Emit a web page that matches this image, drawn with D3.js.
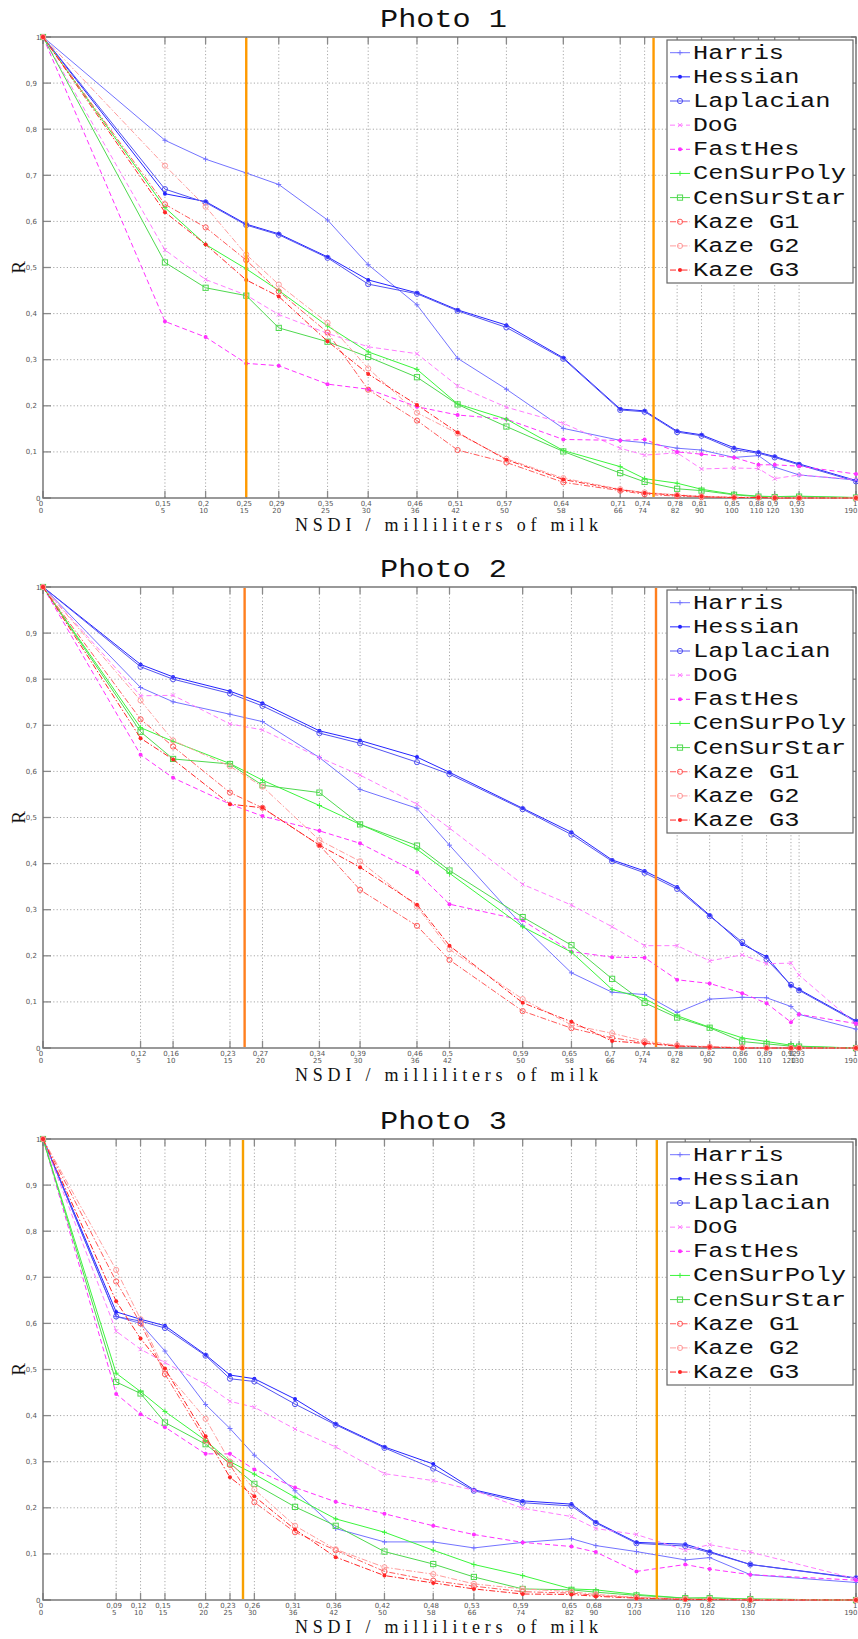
<!DOCTYPE html>
<html><head><meta charset="utf-8">
<script src="https://cdn.jsdelivr.net/npm/d3@7/dist/d3.min.js"></script>
<style>body{margin:0;background:#fff}svg{display:block}</style>
</head><body>
<svg id="c" width="858" height="1639"></svg>
<script>
// ---------------- DATA ----------------
const photoTitles = ["Photo 1", "Photo 2", "Photo 3"];
const milkLabels = [0, 5, 10, 15, 20, 25, 30, 36, 42, 50, 58, 66, 74, 82, 90, 100, 110, 120, 130, 190];

const nsdi1 = [0, 0.15, 0.2, 0.25, 0.29, 0.35, 0.4, 0.46, 0.51, 0.57, 0.64, 0.71, 0.74, 0.78, 0.81, 0.85, 0.88, 0.9, 0.93, 1];
const nsdi2 = [0, 0.12, 0.16, 0.23, 0.27, 0.34, 0.39, 0.46, 0.5, 0.59, 0.65, 0.7, 0.74, 0.78, 0.82, 0.86, 0.89, 0.92, 0.93, 1];
const nsdi3 = [0, 0.09, 0.12, 0.15, 0.2, 0.23, 0.26, 0.31, 0.36, 0.42, 0.48, 0.53, 0.59, 0.65, 0.68, 0.73, 0.79, 0.82, 0.87, 1];

const orange1 = [0.25, 0.751];
const orange2 = [0.248, 0.754];
const orange3 = [0.246, 0.755];

const yTicks = [0, 0.1, 0.2, 0.3, 0.4, 0.5, 0.6, 0.7, 0.8, 0.9, 1];

// Photo 1
const harris1     = [1, 0.776, 0.735, 0.705, 0.680, 0.603, 0.506, 0.419, 0.303, 0.236, 0.151, 0.125, 0.120, 0.108, 0.104, 0.088, 0.092, 0.067, 0.050, 0.039];
const hessian1    = [1, 0.660, 0.643, 0.594, 0.573, 0.523, 0.473, 0.445, 0.408, 0.375, 0.304, 0.193, 0.189, 0.145, 0.137, 0.109, 0.099, 0.090, 0.074, 0.038];
const laplacian1  = [1, 0.670, 0.641, 0.592, 0.571, 0.521, 0.464, 0.443, 0.406, 0.370, 0.302, 0.191, 0.187, 0.143, 0.135, 0.105, 0.097, 0.088, 0.072, 0.036];
const dog1        = [1, 0.538, 0.474, 0.440, 0.398, 0.357, 0.328, 0.313, 0.243, 0.197, 0.162, 0.108, 0.093, 0.098, 0.063, 0.065, 0.064, 0.042, 0.050, 0.040];
const fasthes1    = [1, 0.383, 0.349, 0.292, 0.287, 0.247, 0.236, 0.198, 0.180, 0.171, 0.127, 0.125, 0.127, 0.100, 0.095, 0.088, 0.072, 0.072, 0.069, 0.052];
const censurpoly1 = [1, 0.630, 0.550, 0.497, 0.450, 0.373, 0.317, 0.279, 0.204, 0.171, 0.103, 0.068, 0.042, 0.032, 0.019, 0.008, 0.004, 0.003, 0.004, 0.001];
const censurstar1 = [1, 0.511, 0.456, 0.439, 0.369, 0.339, 0.306, 0.262, 0.203, 0.155, 0.101, 0.054, 0.035, 0.020, 0.016, 0.007, 0.003, 0.002, 0.003, 0.001];
const kazeg1_1    = [1, 0.637, 0.587, 0.516, 0.448, 0.359, 0.235, 0.168, 0.104, 0.077, 0.034, 0.016, 0.008, 0.004, 0.002, 0.001, 0.001, 0, 0, 0];
const kazeg2_1    = [1, 0.721, 0.632, 0.528, 0.463, 0.380, 0.281, 0.185, 0.140, 0.085, 0.043, 0.019, 0.012, 0.007, 0.004, 0.002, 0.001, 0.001, 0, 0];
const kazeg3_1    = [1, 0.620, 0.550, 0.473, 0.437, 0.340, 0.269, 0.202, 0.142, 0.083, 0.040, 0.018, 0.011, 0.006, 0.003, 0.001, 0.001, 0, 0, 0];

// Photo 2
const harris2     = [1, 0.782, 0.751, 0.724, 0.708, 0.630, 0.561, 0.520, 0.440, 0.265, 0.163, 0.121, 0.116, 0.077, 0.106, 0.110, 0.109, 0.090, 0.073, 0.041];
const hessian2    = [1, 0.832, 0.805, 0.774, 0.748, 0.688, 0.667, 0.631, 0.598, 0.520, 0.468, 0.408, 0.384, 0.349, 0.288, 0.225, 0.198, 0.135, 0.127, 0.059];
const laplacian2  = [1, 0.827, 0.800, 0.769, 0.742, 0.683, 0.661, 0.620, 0.594, 0.518, 0.463, 0.405, 0.380, 0.345, 0.286, 0.230, 0.192, 0.137, 0.125, 0.057];
const dog2        = [1, 0.764, 0.765, 0.703, 0.690, 0.630, 0.592, 0.529, 0.477, 0.355, 0.310, 0.263, 0.222, 0.222, 0.189, 0.202, 0.183, 0.184, 0.158, 0.052];
const fasthes2    = [1, 0.636, 0.586, 0.529, 0.503, 0.471, 0.444, 0.381, 0.312, 0.277, 0.209, 0.197, 0.196, 0.148, 0.140, 0.119, 0.097, 0.056, 0.073, 0.053];
const censurpoly2 = [1, 0.695, 0.665, 0.617, 0.581, 0.526, 0.485, 0.431, 0.379, 0.263, 0.208, 0.127, 0.107, 0.070, 0.045, 0.022, 0.014, 0.006, 0.004, 0];
const censurstar2 = [1, 0.686, 0.627, 0.616, 0.570, 0.554, 0.485, 0.439, 0.385, 0.284, 0.223, 0.150, 0.098, 0.066, 0.044, 0.014, 0.009, 0.004, 0.003, 0];
const kazeg1_2    = [1, 0.713, 0.654, 0.554, 0.521, 0.440, 0.343, 0.265, 0.191, 0.080, 0.043, 0.022, 0.012, 0.005, 0.002, 0.001, 0, 0, 0, 0];
const kazeg2_2    = [1, 0.754, 0.667, 0.611, 0.567, 0.451, 0.405, 0.307, 0.214, 0.106, 0.050, 0.032, 0.015, 0.006, 0.003, 0.001, 0, 0, 0, 0];
const kazeg3_2    = [1, 0.672, 0.626, 0.529, 0.521, 0.440, 0.392, 0.311, 0.222, 0.098, 0.057, 0.015, 0.010, 0.004, 0.002, 0, 0, 0, 0, 0];

// Photo 3
const harris3     = [1, 0.615, 0.600, 0.540, 0.424, 0.372, 0.314, 0.237, 0.155, 0.126, 0.126, 0.113, 0.125, 0.133, 0.118, 0.105, 0.087, 0.092, 0.055, 0.038];
const hessian3    = [1, 0.625, 0.609, 0.595, 0.532, 0.488, 0.480, 0.436, 0.382, 0.332, 0.295, 0.239, 0.215, 0.208, 0.169, 0.125, 0.121, 0.105, 0.077, 0.048];
const laplacian3  = [1, 0.615, 0.605, 0.590, 0.530, 0.480, 0.474, 0.425, 0.380, 0.330, 0.285, 0.237, 0.211, 0.204, 0.167, 0.123, 0.117, 0.103, 0.077, 0.047];
const dog3        = [1, 0.583, 0.544, 0.515, 0.468, 0.431, 0.418, 0.371, 0.332, 0.274, 0.259, 0.238, 0.199, 0.181, 0.155, 0.142, 0.108, 0.120, 0.104, 0.046];
const fasthes3    = [1, 0.447, 0.403, 0.375, 0.317, 0.317, 0.283, 0.244, 0.213, 0.187, 0.161, 0.142, 0.125, 0.116, 0.104, 0.062, 0.077, 0.067, 0.055, 0.043];
const censurpoly3 = [1, 0.492, 0.452, 0.409, 0.346, 0.300, 0.273, 0.223, 0.176, 0.147, 0.108, 0.077, 0.053, 0.024, 0.022, 0.012, 0.004, 0.005, 0.002, 0];
const censurstar3 = [1, 0.473, 0.448, 0.385, 0.338, 0.296, 0.252, 0.202, 0.161, 0.105, 0.078, 0.050, 0.024, 0.022, 0.017, 0.010, 0.004, 0.004, 0.002, 0];
const kazeg1_3    = [1, 0.691, 0.600, 0.490, 0.346, 0.293, 0.212, 0.147, 0.108, 0.062, 0.042, 0.030, 0.018, 0.015, 0.010, 0.005, 0.002, 0.001, 0, 0];
const kazeg2_3    = [1, 0.716, 0.609, 0.497, 0.393, 0.300, 0.240, 0.161, 0.110, 0.071, 0.056, 0.035, 0.024, 0.018, 0.012, 0.006, 0.002, 0.002, 0.001, 0];
const kazeg3_3    = [1, 0.648, 0.567, 0.502, 0.355, 0.266, 0.225, 0.153, 0.093, 0.053, 0.037, 0.024, 0.013, 0.012, 0.008, 0.004, 0.001, 0.001, 0, 0];

const seriesNames = ["Harris", "Hessian", "Laplacian", "DoG", "FastHes", "CenSurPoly", "CenSurStar", "Kaze G1", "Kaze G2", "Kaze G3"];

// ---------------- TABLES BUILT FROM DATA ----------------
const photoNsdi = [nsdi1, nsdi2, nsdi3];
const photoOrange = [orange1, orange2, orange3];
const photoSeries = [
  [harris1, hessian1, laplacian1, dog1, fasthes1, censurpoly1, censurstar1, kazeg1_1, kazeg2_1, kazeg3_1],
  [harris2, hessian2, laplacian2, dog2, fasthes2, censurpoly2, censurstar2, kazeg1_2, kazeg2_2, kazeg3_2],
  [harris3, hessian3, laplacian3, dog3, fasthes3, censurpoly3, censurstar3, kazeg1_3, kazeg2_3, kazeg3_3]
];

const styles = {
  "Harris":     {color: "#7373ff", dash: null,        marker: "plus"},
  "Hessian":    {color: "#2424ff", dash: null,        marker: "dot"},
  "Laplacian":  {color: "#5252f2", dash: null,        marker: "circle"},
  "DoG":        {color: "#ff7cff", dash: "5,3",       marker: "x"},
  "FastHes":    {color: "#ff30ff", dash: "5,3",       marker: "dot"},
  "CenSurPoly": {color: "#3cf53c", dash: null,        marker: "plus"},
  "CenSurStar": {color: "#4fd94f", dash: null,        marker: "square"},
  "Kaze G1":    {color: "#ff5a5a", dash: "6,2,1.5,2", marker: "circle"},
  "Kaze G2":    {color: "#ff9c9c", dash: "6,2,1.5,2", marker: "circle"},
  "Kaze G3":    {color: "#ff2626", dash: "6,2,1.5,2", marker: "dot"}
};
const orangeColors = ["#ff9a00", "#ff7f1e", "#f8a000"];

// ---------------- LAYOUT ----------------
const plotLeft = 43, plotRight = 856, plotH = 461;
const plotTops = [37, 587, 1139];
const svg = d3.select("#c");

function drawMarker(g, type, cx, cy, color) {
  if (type === "plus") {
    g.append("path").attr("d", `M${cx-2.5},${cy}H${cx+2.5}M${cx},${cy-2.5}V${cy+2.5}`)
      .attr("stroke", color).attr("stroke-width", 1).attr("fill", "none");
  } else if (type === "x") {
    g.append("path").attr("d", `M${cx-2},${cy-2}L${cx+2},${cy+2}M${cx-2},${cy+2}L${cx+2},${cy-2}`)
      .attr("stroke", color).attr("stroke-width", 1).attr("fill", "none");
  } else if (type === "dot") {
    g.append("circle").attr("cx", cx).attr("cy", cy).attr("r", 2).attr("fill", color);
  } else if (type === "circle") {
    g.append("circle").attr("cx", cx).attr("cy", cy).attr("r", 2.6)
      .attr("fill", "none").attr("stroke", color).attr("stroke-width", 1);
  } else if (type === "square") {
    g.append("rect").attr("x", cx-2.6).attr("y", cy-2.6).attr("width", 5.2).attr("height", 5.2)
      .attr("fill", "none").attr("stroke", color).attr("stroke-width", 1);
  }
}

photoTitles.forEach((title, p) => {
  const top = plotTops[p], bottom = top + plotH;
  const nsdi = photoNsdi[p];
  const x = d3.scaleLinear().domain([0, 1]).range([plotLeft, plotRight]);
  const y = d3.scaleLinear().domain([0, 1]).range([bottom, top]);
  const g = svg.append("g");

  // grid (dotted)
  const grid = g.append("g").attr("stroke", "#a8a8a8").attr("stroke-width", 1).attr("stroke-dasharray", "1.2,2.2");
  nsdi.filter(v => v > 0 && v < 1).forEach(v => {
    grid.append("line").attr("x1", x(v)).attr("x2", x(v)).attr("y1", top).attr("y2", bottom);
  });
  yTicks.filter(v => v > 0 && v < 1).forEach(v => {
    grid.append("line").attr("x1", plotLeft).attr("x2", plotRight).attr("y1", y(v)).attr("y2", y(v));
  });

  // tick marks inside
  const tk = g.append("g").attr("stroke", "#8a8a8a").attr("stroke-width", 1.3);
  nsdi.forEach(v => {
    tk.append("line").attr("x1", x(v)).attr("x2", x(v)).attr("y1", top).attr("y2", top + 7);
    tk.append("line").attr("x1", x(v)).attr("x2", x(v)).attr("y1", bottom).attr("y2", bottom - 7);
  });
  yTicks.forEach(v => {
    tk.append("line").attr("x1", plotLeft).attr("x2", plotLeft + 8).attr("y1", y(v)).attr("y2", y(v));
    tk.append("line").attr("x1", plotRight).attr("x2", plotRight - 5).attr("y1", y(v)).attr("y2", y(v));
  });

  // box
  g.append("rect").attr("x", plotLeft).attr("y", top).attr("width", plotRight - plotLeft).attr("height", plotH)
    .attr("fill", "none").attr("stroke", "#6e6e6e").attr("stroke-width", 1.4);

  // series
  const line = d3.line().x((d, i) => x(nsdi[i])).y(d => y(d));
  photoSeries[p].forEach((vals, si) => {
    const st = styles[seriesNames[si]];
    const sg = g.append("g");
    sg.append("path").attr("d", line(vals)).attr("fill", "none").attr("stroke", st.color)
      .attr("stroke-width", 1).attr("stroke-dasharray", st.dash);
    vals.forEach((v, i) => drawMarker(sg, st.marker, x(nsdi[i]), y(v), st.color));
  });

  // orange vertical lines
  photoOrange[p].forEach(v => {
    g.append("line").attr("x1", x(v)).attr("x2", x(v)).attr("y1", top + 1).attr("y2", bottom - 1)
      .attr("stroke", orangeColors[p]).attr("stroke-width", 2.4);
  });

  // y tick labels
  yTicks.forEach(v => {
    const lbl = String(v).replace(".", ",");
    g.append("text").attr("x", (v === 0 || v === 1) ? 40.5 : 37).attr("y", y(v) + 2.5)
      .attr("text-anchor", "end").attr("font-family", "DejaVu Sans").attr("font-size", 7)
      .attr("fill", "#555").text(lbl);
  });

  // x tick labels
  nsdi.forEach((v, i) => {
    const last = v === 1;
    const xx = last ? 857.5 : x(v) - 2;
    const anchor = last ? "end" : "middle";
    g.append("text").attr("x", xx).attr("y", bottom + 7.5).attr("text-anchor", anchor)
      .attr("font-family", "DejaVu Sans").attr("font-size", 7).attr("fill", "#555")
      .text(String(v).replace(".", ","));
    g.append("text").attr("x", xx).attr("y", bottom + 14.5).attr("text-anchor", anchor)
      .attr("font-family", "DejaVu Sans").attr("font-size", 7).attr("fill", "#555")
      .text(milkLabels[i]);
  });

  // title
  g.append("text").attr("x", 380).attr("y", top - 10).attr("font-family", "Liberation Mono")
    .attr("font-size", 26).attr("fill", "#111").attr("textLength", 127)
    .attr("lengthAdjust", "spacingAndGlyphs").text(title);

  // x axis label
  g.append("text").attr("x", 295).attr("y", bottom + 33).attr("font-family", "Liberation Serif")
    .attr("font-size", 18).attr("fill", "#111").attr("textLength", 303)
    .attr("lengthAdjust", "spacing").text("NSDI / milliliters of milk");

  // y axis label
  g.append("text").attr("transform", `translate(25,${(top + bottom) / 2}) rotate(-90)`)
    .attr("text-anchor", "middle").attr("font-family", "Liberation Serif").attr("font-size", 19)
    .attr("fill", "#111").text("R");

  // legend
  const lg = g.append("g");
  lg.append("rect").attr("x", 667).attr("y", top + 3).attr("width", 186).attr("height", 243)
    .attr("fill", "#fff").attr("stroke", "#666").attr("stroke-width", 1.2);
  seriesNames.forEach((name, i) => {
    const st = styles[name];
    const cy = top + 15.7 + i * 24.15;
    lg.append("line").attr("x1", 670).attr("x2", 690).attr("y1", cy).attr("y2", cy)
      .attr("stroke", st.color).attr("stroke-width", 1).attr("stroke-dasharray", st.dash);
    drawMarker(lg, st.marker, 680, cy, st.color);
    lg.append("text").attr("x", 693).attr("y", cy + 6).attr("font-family", "Liberation Mono")
      .attr("font-size", 20).attr("fill", "#111").attr("textLength", name.length * 15.5 - 2)
      .attr("lengthAdjust", "spacingAndGlyphs").text(name);
  });
});
</script>
</body></html>
